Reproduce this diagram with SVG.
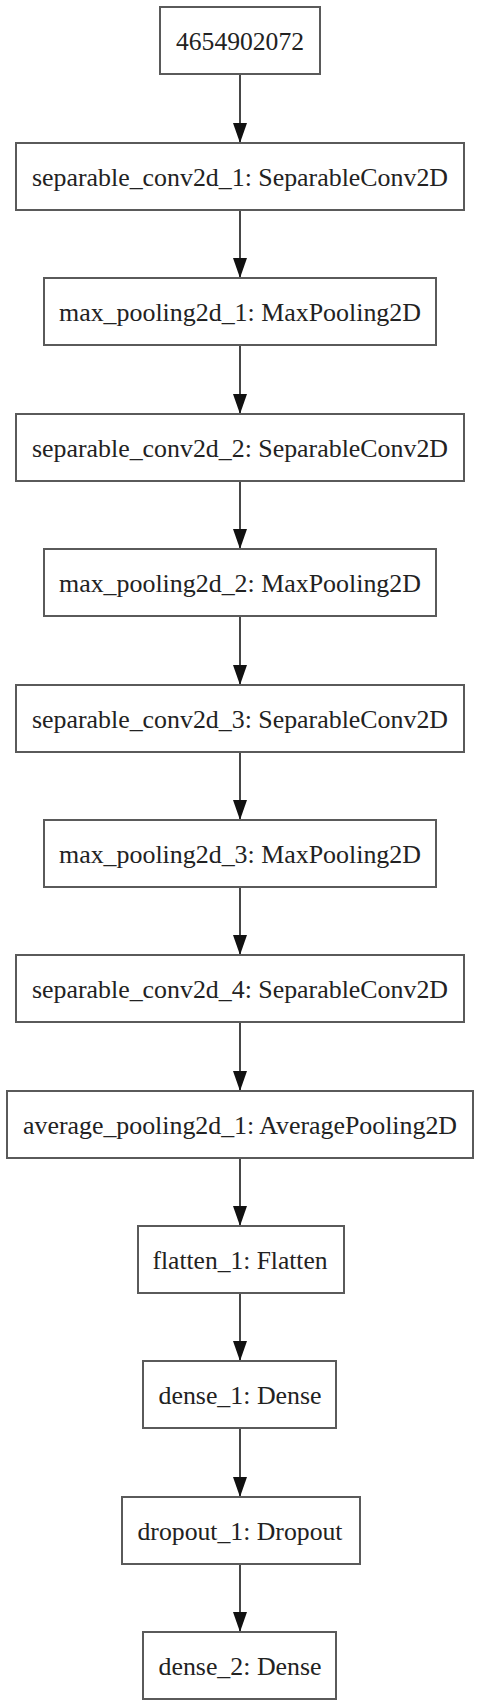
<svg xmlns="http://www.w3.org/2000/svg" width="480" height="1707" viewBox="0 0 480 1707">
<defs>
<style>
.box{fill:#fff;stroke:#5a5a5a;stroke-width:2}
.lbl{font-family:"Liberation Serif","Times New Roman",serif;font-size:25.6px;fill:#222;text-anchor:middle}
.edge{stroke:#333;stroke-width:1.8;fill:none}
</style>
<marker id="ah" markerWidth="20" markerHeight="14" refX="20" refY="7" orient="auto" markerUnits="userSpaceOnUse" viewBox="0 0 20 14">
<path d="M0,0 L20,7 L0,14 Z" fill="#111"/>
</marker>
</defs>
<rect width="480" height="1707" fill="#fff"/>
<g id="edges">
<line class="edge" x1="240" y1="75" x2="240" y2="143" marker-end="url(#ah)"/>
<line class="edge" x1="240" y1="210" x2="240" y2="278" marker-end="url(#ah)"/>
<line class="edge" x1="240" y1="345" x2="240" y2="414" marker-end="url(#ah)"/>
<line class="edge" x1="240" y1="481" x2="240" y2="549" marker-end="url(#ah)"/>
<line class="edge" x1="240" y1="616" x2="240" y2="685" marker-end="url(#ah)"/>
<line class="edge" x1="240" y1="752" x2="240" y2="820" marker-end="url(#ah)"/>
<line class="edge" x1="240" y1="887" x2="240" y2="955" marker-end="url(#ah)"/>
<line class="edge" x1="240" y1="1022" x2="240" y2="1091" marker-end="url(#ah)"/>
<line class="edge" x1="240" y1="1158" x2="240" y2="1226" marker-end="url(#ah)"/>
<line class="edge" x1="240" y1="1293" x2="240" y2="1361" marker-end="url(#ah)"/>
<line class="edge" x1="240" y1="1428" x2="240" y2="1497" marker-end="url(#ah)"/>
<line class="edge" x1="240" y1="1564" x2="240" y2="1632" marker-end="url(#ah)"/>
</g>
<g id="n0"><rect class="box" x="160" y="7" width="160" height="67"/><text class="lbl" x="240" y="50" textLength="128" lengthAdjust="spacingAndGlyphs">4654902072</text></g>
<g id="n1"><rect class="box" x="16" y="143" width="448" height="67"/><text class="lbl" x="240" y="186" textLength="416" lengthAdjust="spacingAndGlyphs">separable_conv2d_1: SeparableConv2D</text></g>
<g id="n2"><rect class="box" x="44" y="278" width="392" height="67"/><text class="lbl" x="240" y="321" textLength="362" lengthAdjust="spacingAndGlyphs">max_pooling2d_1: MaxPooling2D</text></g>
<g id="n3"><rect class="box" x="16" y="414" width="448" height="67"/><text class="lbl" x="240" y="457" textLength="416" lengthAdjust="spacingAndGlyphs">separable_conv2d_2: SeparableConv2D</text></g>
<g id="n4"><rect class="box" x="44" y="549" width="392" height="67"/><text class="lbl" x="240" y="592" textLength="362" lengthAdjust="spacingAndGlyphs">max_pooling2d_2: MaxPooling2D</text></g>
<g id="n5"><rect class="box" x="16" y="685" width="448" height="67"/><text class="lbl" x="240" y="728" textLength="416" lengthAdjust="spacingAndGlyphs">separable_conv2d_3: SeparableConv2D</text></g>
<g id="n6"><rect class="box" x="44" y="820" width="392" height="67"/><text class="lbl" x="240" y="863" textLength="362" lengthAdjust="spacingAndGlyphs">max_pooling2d_3: MaxPooling2D</text></g>
<g id="n7"><rect class="box" x="16" y="955" width="448" height="67"/><text class="lbl" x="240" y="998" textLength="416" lengthAdjust="spacingAndGlyphs">separable_conv2d_4: SeparableConv2D</text></g>
<g id="n8"><rect class="box" x="7" y="1091" width="466" height="67"/><text class="lbl" x="240" y="1134" textLength="434" lengthAdjust="spacingAndGlyphs">average_pooling2d_1: AveragePooling2D</text></g>
<g id="n9"><rect class="box" x="138" y="1226" width="206" height="67"/><text class="lbl" x="240" y="1269" textLength="175" lengthAdjust="spacingAndGlyphs">flatten_1: Flatten</text></g>
<g id="n10"><rect class="box" x="143" y="1361" width="193" height="67"/><text class="lbl" x="240" y="1404" textLength="163" lengthAdjust="spacingAndGlyphs">dense_1: Dense</text></g>
<g id="n11"><rect class="box" x="122" y="1497" width="238" height="67"/><text class="lbl" x="240" y="1540" textLength="205" lengthAdjust="spacingAndGlyphs">dropout_1: Dropout</text></g>
<g id="n12"><rect class="box" x="143" y="1632" width="193" height="67"/><text class="lbl" x="240" y="1675" textLength="163" lengthAdjust="spacingAndGlyphs">dense_2: Dense</text></g>
</svg>
